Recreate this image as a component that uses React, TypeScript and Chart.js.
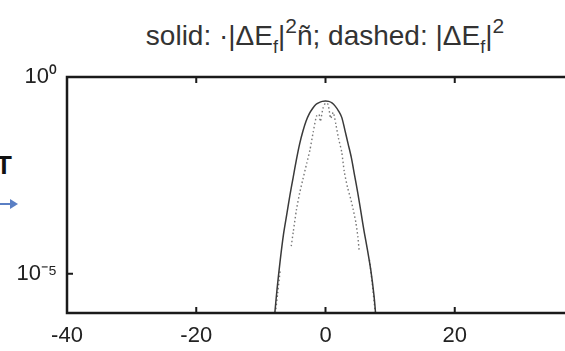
import React, { useEffect, useRef } from "react";
import { Chart, registerables } from "chart.js";

Chart.register(...registerables);

// solid curve: <|ΔE_f|^2>
const solidX = [-7.9, -7.5, -7.0, -6.5, -6.0, -5.5, -5.0, -4.5, -4.0, -3.5, -3.0, -2.5, -2.0, -1.5, -1.0, -0.5, 0, 0.5, 1.0, 1.5, 2.0, 2.5, 3.0, 3.5, 4.0, 4.5, 5.0, 5.5, 6.0, 6.5, 7.0, 7.5, 7.8];
const solidY = [7.9e-7, 3.98e-6, 2.24e-5, 1e-4, 3.16e-4, 1e-3, 2.82e-3, 7.94e-3, 2.0e-2, 4.17e-2, 7.59e-2, 0.117, 0.158, 0.2, 0.224, 0.24, 0.245, 0.24, 0.219, 0.182, 0.138, 0.0955, 0.0447, 0.02, 0.00891, 0.00316, 0.00112, 3.55e-4, 1.12e-4, 3.98e-5, 1.26e-5, 2.82e-6, 7.9e-7];

// dashed (dotted) curve: |ΔE_f|^2
const dashX = [-7.75, -7.4, -7.0, -6.2, -5.3, -5.0, -4.5, -4.0, -3.5, -2.9, -2.4, -1.9, -1.4, -1.0, -0.8, -0.4, 0, 0.4, 0.8, 1.2, 1.6, 2.0, 2.5, 2.9, 3.4, 3.9, 4.3, 4.7, 5.0, 5.2, 6.0, 6.8, 7.2, 7.7];
const dashY = [1e-6, 3.16e-6, 1.26e-5, null, 5.01e-5, 1.12e-4, 4.17e-4, 1.12e-3, 2.51e-3, 6.46e-3, 1.41e-2, 3.98e-2, 0.1, 0.112, 0.0741, 0.158, 0.219, 0.2, 0.0891, 0.126, 0.0631, 0.0282, 0.0126, 3.98e-3, 1.58e-3, 7.94e-4, 4.17e-4, 2.0e-4, 8.91e-5, 3.98e-5, null, 2.24e-5, 6.31e-6, 1e-6];

const xTicks = [-40, -20, 0, 20, 40];
const yTicks = [1e-5, 1];
const yTickLabels = ["10\u207B\u2075", "10\u2070"];

const boxPlugin = {
  id: "box",
  afterDraw(chart: any) {
    const { ctx, chartArea, scales } = chart;
    const { left, right, top, bottom } = chartArea;
    ctx.save();
    ctx.strokeStyle = "#1a1a1a";
    ctx.lineWidth = 2.5;
    ctx.strokeRect(left, top, right - left, bottom - top);
    ctx.lineWidth = 2;
    scales.x.ticks.forEach((t: any) => {
      const px = scales.x.getPixelForValue(t.value);
      ctx.beginPath();
      ctx.moveTo(px, bottom);
      ctx.lineTo(px, bottom - 6);
      ctx.moveTo(px, top);
      ctx.lineTo(px, top + 6);
      ctx.stroke();
    });
    scales.y.ticks.forEach((t: any) => {
      const py = scales.y.getPixelForValue(t.value);
      ctx.beginPath();
      ctx.moveTo(left, py);
      ctx.lineTo(left + 6, py);
      ctx.moveTo(right, py);
      ctx.lineTo(right - 6, py);
      ctx.stroke();
    });
    ctx.restore();
  },
};

const supStyle: React.CSSProperties = { fontSize: 21, lineHeight: 0, verticalAlign: "0.55em" };
const subStyle: React.CSSProperties = { fontSize: 18, lineHeight: 0, verticalAlign: "-0.45em" };

export default function App() {
  const ref = useRef<HTMLCanvasElement | null>(null);
  useEffect(() => {
    if (!ref.current) return;
    const chart = new Chart(ref.current, {
      type: "line",
      data: {
        datasets: [
          {
            data: solidX.map((x, i) => ({ x, y: solidY[i] })),
            borderColor: "#3a3a3a",
            borderWidth: 1.5,
            pointRadius: 0,
            tension: 0.3,
          },
          {
            data: dashX.map((x, i) => ({ x, y: dashY[i] })),
            borderColor: "#777",
            borderWidth: 1.4,
            borderDash: [1.5, 2.5],
            pointRadius: 0,
            spanGaps: false,
            tension: 0.2,
          },
        ],
      },
      options: {
        responsive: false,
        animation: false,
        layout: { padding: { top: 77, right: 36, left: 0, bottom: 0 } },
        plugins: { legend: { display: false }, title: { display: false }, tooltip: { enabled: false } },
        scales: {
          x: {
            type: "linear",
            min: -40,
            max: 40,
            afterBuildTicks: (s: any) => {
              s.ticks = xTicks.map((v) => ({ value: v }));
            },
            afterFit: (s: any) => {
              s.height = 38;
            },
            grid: { display: false, drawTicks: false },
            border: { display: false },
            ticks: {
              padding: 10,
              color: "#222",
              font: { family: "'Liberation Sans', Arial, sans-serif", size: 22 },
              maxRotation: 0,
              callback: (v: any) => String(v),
            },
          },
          y: {
            type: "logarithmic",
            min: 1e-6,
            max: 1,
            afterBuildTicks: (s: any) => {
              s.ticks = yTicks.map((v) => ({ value: v }));
            },
            afterFit: (s: any) => {
              s.width = 67;
            },
            grid: { display: false, drawTicks: false },
            border: { display: false },
            ticks: {
              padding: 10,
              color: "#222",
              font: { family: "'Liberation Sans', Arial, sans-serif", size: 22 },
              callback: (v: any) => {
                const i = yTicks.indexOf(Number(v));
                return i >= 0 ? yTickLabels[i] : "";
              },
            },
          },
        },
      },
      plugins: [boxPlugin],
    });
    return () => chart.destroy();
  }, []);

  return (
    <div style={{ position: "fixed", left: 0, top: 0, width: 565, height: 351, overflow: "hidden", background: "#fff" }}>
      <div
        style={{
          position: "absolute",
          left: 0,
          width: 650,
          top: 21,
          textAlign: "center",
          fontFamily: "'Liberation Sans', Arial, sans-serif",
          fontSize: 28,
          color: "#333",
          whiteSpace: "nowrap",
          lineHeight: "30px",
        }}
      >
        solid: ·|ΔE<sub style={subStyle}>f</sub>|<sup style={supStyle}>2</sup>ñ; dashed: |ΔE
        <sub style={subStyle}>f</sub>|<sup style={supStyle}>2</sup>
      </div>
      <div
        style={{
          position: "absolute",
          left: -4,
          top: 150,
          fontFamily: "'Liberation Sans', Arial, sans-serif",
          fontWeight: "bold",
          fontSize: 26,
          color: "#111",
        }}
      >
        T
      </div>
      <div style={{ position: "absolute", left: 0, top: 203, width: 12, height: 2, background: "#5a7fc4" }} />
      <div
        style={{
          position: "absolute",
          left: 10,
          top: 199,
          width: 0,
          height: 0,
          borderTop: "5px solid transparent",
          borderBottom: "5px solid transparent",
          borderLeft: "8px solid #5a7fc4",
        }}
      />
      <canvas ref={ref} width={620} height={351} style={{ position: "absolute", left: 0, top: 0 }} />
    </div>
  );
}
